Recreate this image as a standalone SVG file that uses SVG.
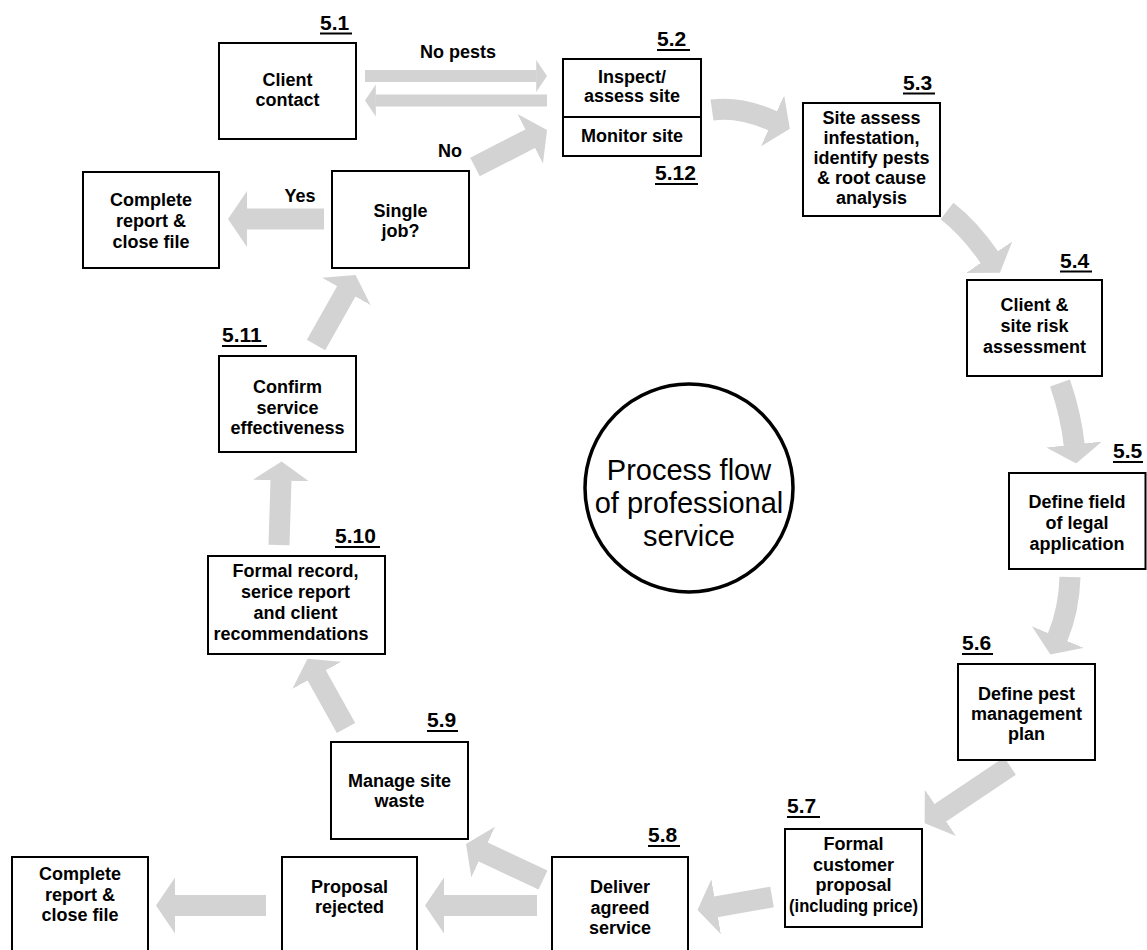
<svg xmlns="http://www.w3.org/2000/svg" width="1147" height="950" viewBox="0 0 1147 950">
<defs>
<style>
.box{fill:#fff;stroke:#000;stroke-width:2}
.t{font-family:"Liberation Sans",Arial,Helvetica,sans-serif;font-size:18px;font-weight:bold;text-anchor:middle;fill:#000}
.lbl{font-family:"Liberation Sans",Arial,Helvetica,sans-serif;font-size:21px;font-weight:bold;fill:#000}
.ul{stroke:#000;stroke-width:2}
.arr{fill:none;stroke:#d3d3d3;stroke-width:21;marker-end:url(#ah)}
.thin{stroke-width:12}
.ct{font-family:"Liberation Sans",Arial,Helvetica,sans-serif;font-size:29px;text-anchor:middle;fill:#000}
</style>
<marker id="ah" markerUnits="strokeWidth" markerWidth="0.905" markerHeight="2.667" viewBox="0 0 19 56" refX="0.5" refY="28" orient="auto">
<path d="M0,0 L19,28 L0,56 Z" fill="#d3d3d3"/>
</marker>
</defs>
<rect width="1147" height="950" fill="#fff"/>
<g id="connectors">
<path class="arr thin" d="M365,76 L536.5,76"/>
<path class="arr thin" d="M547,100.5 L375.5,100.5"/>
<path class="arr" d="M475,167 L530.6,138.5"/>
<path class="arr" d="M712,110 Q740,106 773,121"/>
<path class="arr" d="M947,211 Q970,229 989.5,257.5"/>
<path class="arr" d="M1060,383 Q1071,415 1074.2,445"/>
<path class="arr" d="M1070,577 Q1069,610 1057.5,637.5"/>
<path class="arr" d="M1010,766 L940,813"/>
<path class="arr" d="M772,897 L715.7,906.8"/>
<path class="arr" d="M537,905.5 L443.5,905.5"/>
<path class="arr" d="M266,905.5 L174.5,905.5"/>
<path class="arr" d="M543,880 L482.8,851.8"/>
<path class="arr" d="M346,728 L316.5,675"/>
<path class="arr" d="M279,545 L281,480"/>
<path class="arr" d="M316,345 L346.5,291"/>
<path class="arr" d="M324,219 L246.5,219"/>
<text class="t" x="458" y="58">No pests</text>
<text class="t" x="450" y="157">No</text>
<text class="t" x="300" y="202">Yes</text>
</g>
<g id="n5_1">
<rect class="box" x="219" y="43" width="137" height="96"/>
<text class="t" x="287.5" y="86">Client</text>
<text class="t" x="287.5" y="106">contact</text>
<text class="lbl" x="320" y="30">5.1</text>
<line class="ul" x1="320" y1="33.5" x2="352" y2="33.5"/>
</g>
<g id="complete_top">
<rect class="box" x="83" y="172" width="136" height="96"/>
<text class="t" x="151" y="206">Complete</text>
<text class="t" x="151" y="227">report &amp;</text>
<text class="t" x="151" y="248">close file</text>
</g>
<g id="single_job">
<rect class="box" x="332" y="171" width="137" height="97"/>
<text class="t" x="400.5" y="217">Single</text>
<text class="t" x="400.5" y="237">job?</text>
</g>
<g id="n5_2">
<rect class="box" x="563" y="59" width="138" height="97"/>
<line class="ul" x1="563" y1="117" x2="701" y2="117"/>
<text class="t" x="632" y="83">Inspect/</text>
<text class="t" x="632" y="102">assess site</text>
<text class="t" x="632" y="142">Monitor site</text>
<text class="lbl" x="657" y="46">5.2</text>
<line class="ul" x1="657" y1="50" x2="690" y2="50"/>
<text class="lbl" x="655" y="180">5.12</text>
<line class="ul" x1="655" y1="184" x2="698" y2="184"/>
</g>
<g id="n5_3">
<rect class="box" x="803" y="103" width="137" height="113"/>
<text class="t" x="871.5" y="123.5">Site assess</text>
<text class="t" x="871.5" y="143.5">infestation,</text>
<text class="t" x="871.5" y="163.5">identify pests</text>
<text class="t" x="871.5" y="183.5">&amp; root cause</text>
<text class="t" x="871.5" y="203.5">analysis</text>
<text class="lbl" x="903" y="90">5.3</text>
<line class="ul" x1="903" y1="93.5" x2="935" y2="93.5"/>
</g>
<g id="n5_4">
<rect class="box" x="967" y="280" width="135" height="96"/>
<text class="t" x="1034.5" y="311">Client &amp;</text>
<text class="t" x="1034.5" y="332">site risk</text>
<text class="t" x="1034.5" y="353">assessment</text>
<text class="lbl" x="1060" y="268">5.4</text>
<line class="ul" x1="1060" y1="271.5" x2="1092" y2="271.5"/>
</g>
<g id="n5_5">
<rect class="box" x="1009" y="473" width="136.5" height="96"/>
<text class="t" x="1077" y="508">Define field</text>
<text class="t" x="1077" y="529">of legal</text>
<text class="t" x="1077" y="550">application</text>
<text class="lbl" x="1113" y="458">5.5</text>
<line class="ul" x1="1113" y1="462" x2="1143" y2="462"/>
</g>
<g id="n5_6">
<rect class="box" x="958" y="664" width="137" height="96"/>
<text class="t" x="1026.5" y="700">Define pest</text>
<text class="t" x="1026.5" y="720">management</text>
<text class="t" x="1026.5" y="740">plan</text>
<text class="lbl" x="962" y="650">5.6</text>
<line class="ul" x1="962" y1="654" x2="993" y2="654"/>
</g>
<g id="n5_7">
<rect class="box" x="785" y="829" width="137" height="98"/>
<text class="t" x="853.5" y="850">Formal</text>
<text class="t" x="853.5" y="870.5">customer</text>
<text class="t" x="853.5" y="891">proposal</text>
<text class="t" x="853.5" y="911.5" textLength="129" lengthAdjust="spacingAndGlyphs">(including price)</text>
<text class="lbl" x="787" y="813">5.7</text>
<line class="ul" x1="787" y1="817" x2="820" y2="817"/>
</g>
<g id="n5_8">
<rect class="box" x="552" y="857" width="136" height="100"/>
<text class="t" x="620" y="893">Deliver</text>
<text class="t" x="620" y="913.5">agreed</text>
<text class="t" x="620" y="934">service</text>
<text class="lbl" x="648" y="842">5.8</text>
<line class="ul" x1="648" y1="846" x2="680" y2="846"/>
</g>
<g id="proposal_rejected">
<rect class="box" x="282" y="857" width="135" height="100"/>
<text class="t" x="349.5" y="892.5">Proposal</text>
<text class="t" x="349.5" y="913">rejected</text>
</g>
<g id="complete_bottom">
<rect class="box" x="12" y="857" width="136" height="100"/>
<text class="t" x="80" y="880">Complete</text>
<text class="t" x="80" y="900.5">report &amp;</text>
<text class="t" x="80" y="921">close file</text>
</g>
<g id="n5_9">
<rect class="box" x="331" y="742" width="137" height="97"/>
<text class="t" x="399.5" y="786.5">Manage site</text>
<text class="t" x="399.5" y="807">waste</text>
<text class="lbl" x="427" y="727">5.9</text>
<line class="ul" x1="427" y1="731" x2="458" y2="731"/>
</g>
<g id="n5_10">
<rect class="box" x="208" y="556" width="177" height="98"/>
<text class="t" x="295.5" y="577">Formal record,</text>
<text class="t" x="295.5" y="598">serice report</text>
<text class="t" x="295.5" y="619">and client</text>
<text class="t" x="291" y="640">recommendations</text>
<text class="lbl" x="335" y="543">5.10</text>
<line class="ul" x1="335" y1="547" x2="380" y2="547"/>
</g>
<g id="n5_11">
<rect class="box" x="219" y="356" width="137" height="96"/>
<text class="t" x="287.5" y="393">Confirm</text>
<text class="t" x="287.5" y="413.5">service</text>
<text class="t" x="287.5" y="434">effectiveness</text>
<text class="lbl" x="222" y="342">5.11</text>
<line class="ul" x1="222" y1="346" x2="267" y2="346"/>
</g>
<g id="center">
<circle cx="689" cy="488" r="104" fill="#fff" stroke="#000" stroke-width="3.5"/>
<text class="ct" x="689" y="480">Process flow</text>
<text class="ct" x="689" y="513">of professional</text>
<text class="ct" x="689" y="546">service</text>
</g>
</svg>
